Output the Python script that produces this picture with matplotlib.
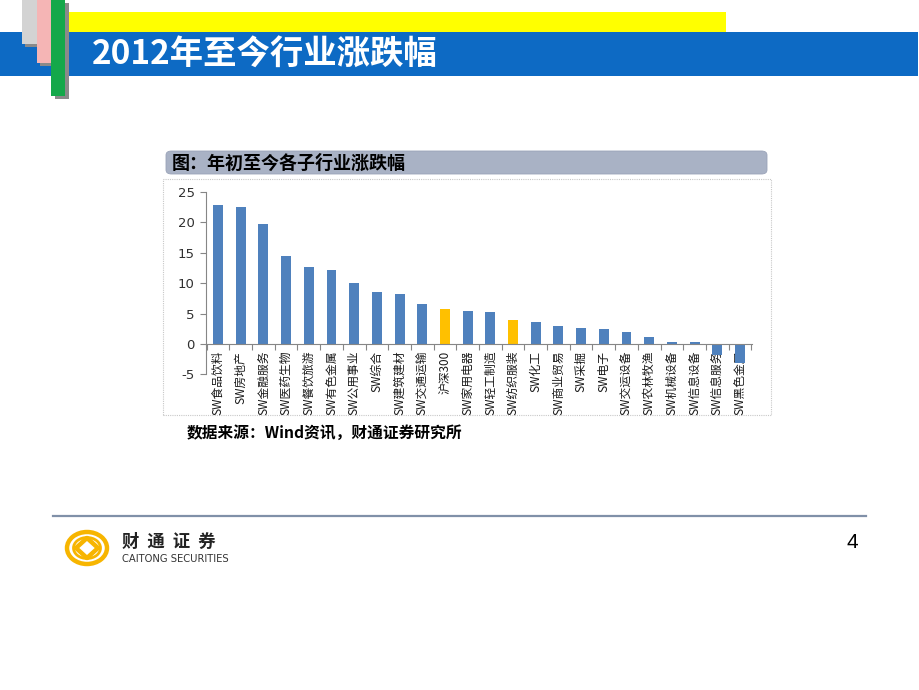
import matplotlib
matplotlib.use("Agg")
import matplotlib.pyplot as plt
from matplotlib.patches import Rectangle, FancyBboxPatch, Ellipse, Polygon
import numpy as np

plt.rcParams['font.family'] = ['Noto Sans CJK SC', 'DejaVu Sans']

# ---------------- data ----------------
categories = ["SW食品饮料", "SW房地产", "SW金融服务", "SW医药生物", "SW餐饮旅游",
              "SW有色金属", "SW公用事业", "SW综合", "SW建筑建材", "SW交通运输",
              "沪深300", "SW家用电器", "SW轻工制造", "SW纺织服装", "SW化工",
              "SW商业贸易", "SW采掘", "SW电子", "SW交运设备", "SW农林牧渔",
              "SW机械设备", "SW信息设备", "SW信息服务", "SW黑色金属"]
values = [22.8, 22.5, 19.7, 14.4, 12.6, 12.2, 10.0, 8.5, 8.3, 6.6,
          5.7, 5.4, 5.3, 4.0, 3.6, 2.9, 2.6, 2.4, 2.0, 1.1,
          0.3, 0.3, -1.8, -3.2]
highlight = ["沪深300", "SW纺织服装"]
yticks = [-5, 0, 5, 10, 15, 20, 25]

page_title = "2012年至今行业涨跌幅"
chart_title = "图：年初至今各子行业涨跌幅"
source_text = "数据来源：Wind资讯，财通证券研究所"

W, H = 920, 690
fig = plt.figure(figsize=(W / 100, H / 100), dpi=100)
fig.patch.set_facecolor("white")


def px(x, y):
    return x / W, 1 - y / H


def rect(x0, y0, x1, y1, color, z=1, **kw):
    fx, fy = px(x0, y1)
    r = Rectangle((fx, fy), (x1 - x0) / W, (y1 - y0) / H, transform=fig.transFigure,
                  facecolor=color, edgecolor="none", zorder=z, **kw)
    fig.add_artist(r)
    return r


# ---------------- header decoration ----------------
rect(65, 12, 726, 32, "#FFFF00", z=1)
rect(0, 32, 918, 76, "#0D6AC4", z=2)
# vertical strips with shadows
rect(25, 3, 40, 47, "#8A8A8A", z=3)
rect(22, 0, 37, 44, "#D3D3D3", z=4)
rect(40, 3, 54, 66, "#8A8A8A", z=5)
rect(37, 0, 51, 63, "#F5B5B5", z=6)
rect(55, 3, 69, 99, "#8A8A8A", z=7)
rect(51, 0, 65, 96, "#14A84A", z=8)

fig.text(*px(92, 54), page_title, color="white", fontsize=24, fontweight="bold",
         ha="left", va="center", zorder=10)

# ---------------- chart frame ----------------
frame = Rectangle(px(163, 415), (771 - 163) / W, (415 - 179) / H, transform=fig.transFigure,
                  facecolor="none", edgecolor="#C8C8C8", linewidth=0.8,
                  linestyle=(0, (1, 1)), zorder=1)
fig.add_artist(frame)
hdr = FancyBboxPatch(px(166, 174), (767 - 166) / W, (174 - 151) / H,
                     boxstyle="round,pad=0.0,rounding_size=0.006",
                     transform=fig.transFigure, facecolor="#A9B2C5",
                     edgecolor="#9AA3B8", linewidth=0.6, zorder=2)
fig.add_artist(hdr)
fig.text(*px(172, 163), chart_title, color="black", fontsize=13, fontweight="bold",
         ha="left", va="center", zorder=3)

# ---------------- axes ----------------
ax_l, ax_r, ax_t, ax_b = 206, 752, 192.0, 374.4
ax = fig.add_axes([ax_l / W, 1 - ax_b / H, (ax_r - ax_l) / W, (ax_b - ax_t) / H])
ax.set_zorder(5)
ax.set_facecolor("none")
x = np.arange(len(categories))
colors = ["#FFC000" if c in highlight else "#4F81BD" for c in categories]
ax.bar(x, values, width=0.44, color=colors, zorder=3)
ax.set_xlim(-0.53, len(categories) - 1 + 0.53)
ax.set_ylim(-5, 25)
ax.set_yticks(yticks)
ax.set_yticklabels([str(v) for v in yticks], fontsize=9.5, color="#303030",
                   family="DejaVu Sans")
ax.tick_params(axis="y", length=4, width=0.8, color="#868686", pad=4)

for s in ["top", "right"]:
    ax.spines[s].set_visible(False)
ax.spines["left"].set_color("#868686")
ax.spines["left"].set_linewidth(0.8)
ax.spines["bottom"].set_position(("data", 0))
ax.spines["bottom"].set_color("#868686")
ax.spines["bottom"].set_linewidth(0.8)
ax.spines["bottom"].set_zorder(3.5)

ax.set_xticks(x)
ax.set_xticklabels(categories, rotation=90, fontsize=8.5, color="#1A1A1A",
                   va="top", ha="center")
ax.tick_params(axis="x", which="major", length=0, pad=5)
ax.set_xticks(np.arange(-0.5, len(categories) + 0.5, 1.0), minor=True)
ax.tick_params(axis="x", which="minor", length=4, width=0.8, color="#868686")

# ---------------- source ----------------
fig.text(*px(187, 433), source_text, color="black", fontsize=11.3, fontweight="bold",
         ha="left", va="center")

# ---------------- footer ----------------
fig.add_artist(plt.Line2D([53 / W, 866 / W], [1 - 516 / H, 1 - 516 / H],
                          transform=fig.transFigure, color="#8090A8", linewidth=1.6))

# logo
lax = fig.add_axes([64 / W, 1 - 567 / H, 46 / W, 38 / H])
lax.set_zorder(5)
lax.set_xlim(-23, 23)
lax.set_ylim(-19, 19)
lax.axis("off")
lax.add_patch(Ellipse((0, 0), 40, 32, facecolor="none", edgecolor="#F7B500", linewidth=3.2))
lax.add_patch(Polygon([(0, 10), (11, 0), (0, -10), (-11, 0)], closed=True,
                      facecolor="none", edgecolor="#F7B500", linewidth=3.2, joinstyle="round"))
lax.add_patch(Ellipse((0, 0), 27, 21, facecolor="none", edgecolor="#F7B500", linewidth=2.0))

fig.text(*px(122, 542), "财  通  证  券", color="#222222", fontsize=12.5, fontweight="bold",
         ha="left", va="center")
fig.text(*px(122, 559), "CAITONG SECURITIES", color="#333333", fontsize=7.2,
         ha="left", va="center", family="DejaVu Sans")

fig.text(*px(852, 543), "4", color="black", fontsize=15, family="Liberation Sans",
         ha="center", va="center")

fig.savefig("out.png", dpi=100, facecolor="white")
